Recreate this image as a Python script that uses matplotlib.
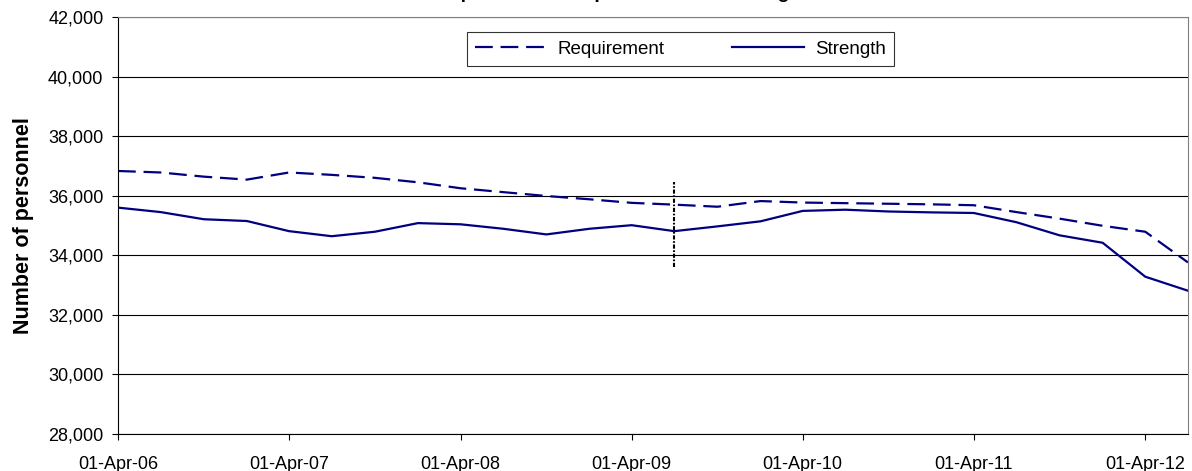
import matplotlib
matplotlib.use('agg')
import matplotlib.pyplot as plt
import matplotlib.dates as mdates
from matplotlib.ticker import FuncFormatter, MultipleLocator
import pandas as pd

plt.rcParams['font.family'] = ['Liberation Sans', 'DejaVu Sans']

quarters = pd.date_range('2006-04-01', '2012-07-01', freq='QS')
requirement = [36830, 36780, 36640, 36540, 36780, 36700, 36600, 36450, 36250, 36120,
               35990, 35880, 35760, 35700, 35630, 35820, 35770, 35750, 35730, 35710,
               35680, 35450, 35230, 34990, 34790, 33760]
strength = [35600, 35450, 35210, 35150, 34810, 34640, 34790, 35080, 35040, 34890,
            34700, 34890, 35010, 34810, 34970, 35140, 35490, 35530, 35470, 35440,
            35420, 35110, 34670, 34420, 33280, 32810]
marker_date = pd.Timestamp('2009-07-01')
marker_range = (33600, 36450)

fig = plt.figure(figsize=(11.92, 4.71), dpi=100)
ax = fig.add_axes([0.099, 0.0786, 0.8976, 0.8853])

ax.plot(quarters, requirement, color='#000080', lw=1.6, dashes=(8, 3.5), label='Requirement')
ax.plot(quarters, strength, color='#000080', lw=1.6, label='Strength')
ax.plot([marker_date, marker_date], marker_range, color='black', lw=1.5,
        ls=(0, (2, 0.8, 0.8, 0.8)))

ax.set_ylim(28000, 42000)
ax.set_xlim(pd.Timestamp('2006-04-01'), pd.Timestamp('2012-07-01'))
ax.yaxis.set_major_locator(MultipleLocator(2000))
ax.yaxis.set_major_formatter(FuncFormatter(lambda v, p: '{:,.0f}'.format(v)))
ax.xaxis.set_major_locator(mdates.MonthLocator(bymonth=4))
ax.xaxis.set_major_formatter(mdates.DateFormatter('%d-%b-%y'))
ax.grid(axis='y', color='black', lw=0.8)
ax.tick_params(direction='out', length=4.5, width=0.8, labelsize=13, color='black')
ax.tick_params(axis='y', pad=6)
ax.tick_params(axis='x', pad=11)
for s in ['top', 'right']:
    ax.spines[s].set_color('#808080')
ax.spines['left'].set_color('black')
ax.spines['bottom'].set_color('black')

ax.set_ylabel('Number of personnel', fontsize=15.5, fontweight='bold', labelpad=10)

leg = ax.legend(loc='center', bbox_to_anchor=(0.5257, 0.9233), ncol=2, frameon=True,
                fancybox=False, edgecolor='black', fontsize=13.5, handlelength=3.8,
                handletextpad=0.6, columnspacing=3.6, borderpad=0.45, borderaxespad=0)
leg.get_frame().set_linewidth(0.8)

fig.text(0.518, 1.004, 'Graph 1: Total Requirement and Strength', ha='center',
         va='baseline', fontsize=14, fontweight='bold')

fig.savefig('out.png', dpi=100, facecolor='white')
